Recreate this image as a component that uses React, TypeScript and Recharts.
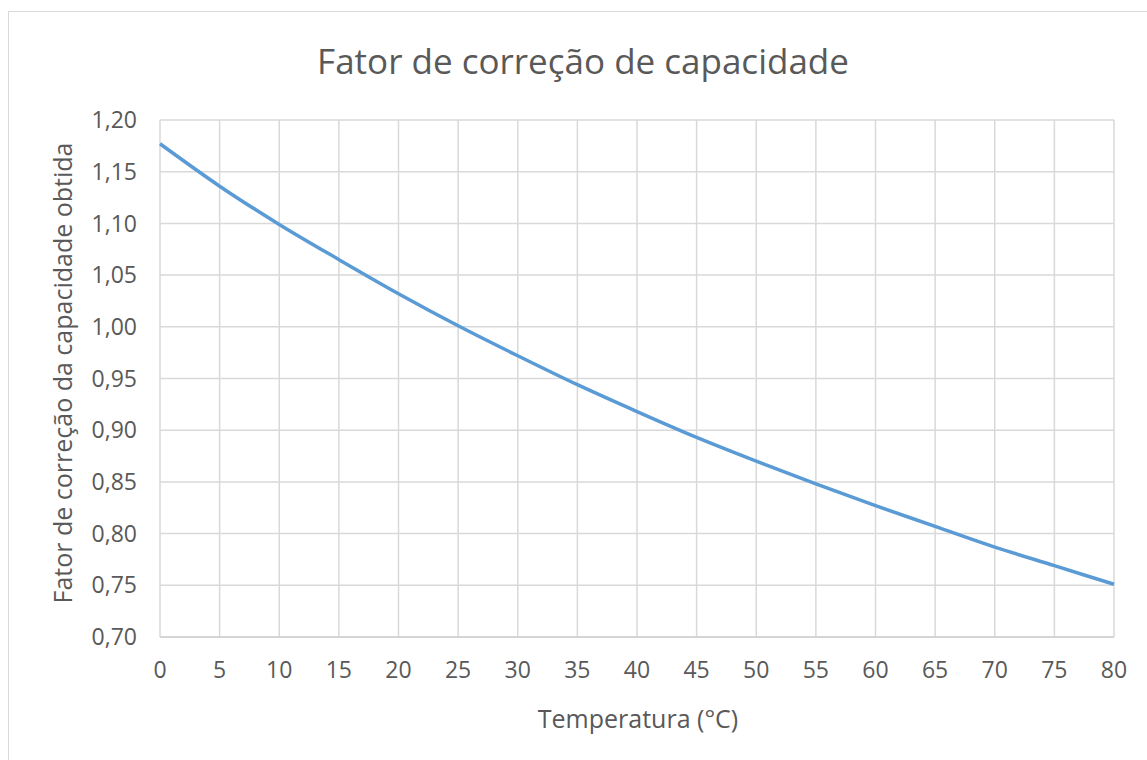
import { LineChart, Line, XAxis, YAxis, CartesianGrid } from "recharts";

const temperatures = [0, 5, 10, 15, 20, 25, 30, 35, 40, 45, 50, 55, 60, 65, 70, 75, 80];
const factors = [
  1.177, 1.136, 1.099, 1.065, 1.032, 1.001, 0.972, 0.944, 0.918, 0.893, 0.87, 0.848, 0.827,
  0.807, 0.787, 0.769, 0.751,
];
const xTicks = [0, 5, 10, 15, 20, 25, 30, 35, 40, 45, 50, 55, 60, 65, 70, 75, 80];
const yTicks = [0.7, 0.75, 0.8, 0.85, 0.9, 0.95, 1.0, 1.05, 1.1, 1.15, 1.2];

const chartTitle = "Fator de correção de capacidade";
const xTitle = "Temperatura (°C)";
const yTitle = "Fator de correção da capacidade obtida";

const data = temperatures.map((t, i) => ({ t, f: factors[i] }));

const FONT = "'Open Sans', sans-serif";
const TEXT = "#595959";

const fmtY = (v: number) => v.toFixed(2).replace(".", ",");

export default function App() {
  return (
    <div
      style={{
        position: "absolute",
        left: 0,
        top: 0,
        width: 1147,
        height: 760,
        overflow: "hidden",
        background: "#fff",
        fontFamily: FONT,
      }}
    >
      <div
        style={{
          position: "absolute",
          left: 8,
          top: 11,
          width: 1200,
          height: 800,
          border: "1.5px solid #d9d9d9",
        }}
      />
      <div
        style={{
          position: "absolute",
          left: 583,
          top: 60,
          transform: "translate(-50%, -50%)",
          whiteSpace: "nowrap",
          fontSize: 35,
          color: TEXT,
        }}
      >
        {chartTitle}
      </div>
      <div
        style={{
          position: "absolute",
          left: 62,
          top: 373,
          transform: "translate(-50%, -50%) rotate(-90deg)",
          whiteSpace: "nowrap",
          fontSize: 25,
          color: TEXT,
        }}
      >
        {yTitle}
      </div>
      <div
        style={{
          position: "absolute",
          left: 638,
          top: 718,
          transform: "translate(-50%, -50%)",
          whiteSpace: "nowrap",
          fontSize: 25,
          color: TEXT,
        }}
      >
        {xTitle}
      </div>
      <div style={{ position: "absolute", left: 0, top: 0 }}>
        <LineChart
          width={1147}
          height={760}
          data={data}
          margin={{ top: 120, right: 33, bottom: 63, left: 60 }}
        >
          <CartesianGrid stroke="#d9d9d9" strokeWidth={1.5} />
          <XAxis
            dataKey="t"
            type="number"
            domain={[0, 80]}
            ticks={xTicks}
            height={60}
            tickSize={0}
            tickMargin={25}
            axisLine={{ stroke: "#d0d0d0", strokeWidth: 1.5 }}
            tickLine={false}
            tick={{ fill: TEXT, fontSize: 23, fontFamily: FONT }}
          />
          <YAxis
            type="number"
            domain={[0.7, 1.2]}
            ticks={yTicks}
            width={100}
            tickSize={0}
            tickMargin={23}
            axisLine={false}
            tickLine={false}
            tickFormatter={fmtY}
            tick={{ fill: TEXT, fontSize: 23, fontFamily: FONT }}
          />
          <Line
            type="monotone"
            dataKey="f"
            stroke="#5b9bd5"
            strokeWidth={3.5}
            dot={false}
            isAnimationActive={false}
          />
        </LineChart>
      </div>
    </div>
  );
}
